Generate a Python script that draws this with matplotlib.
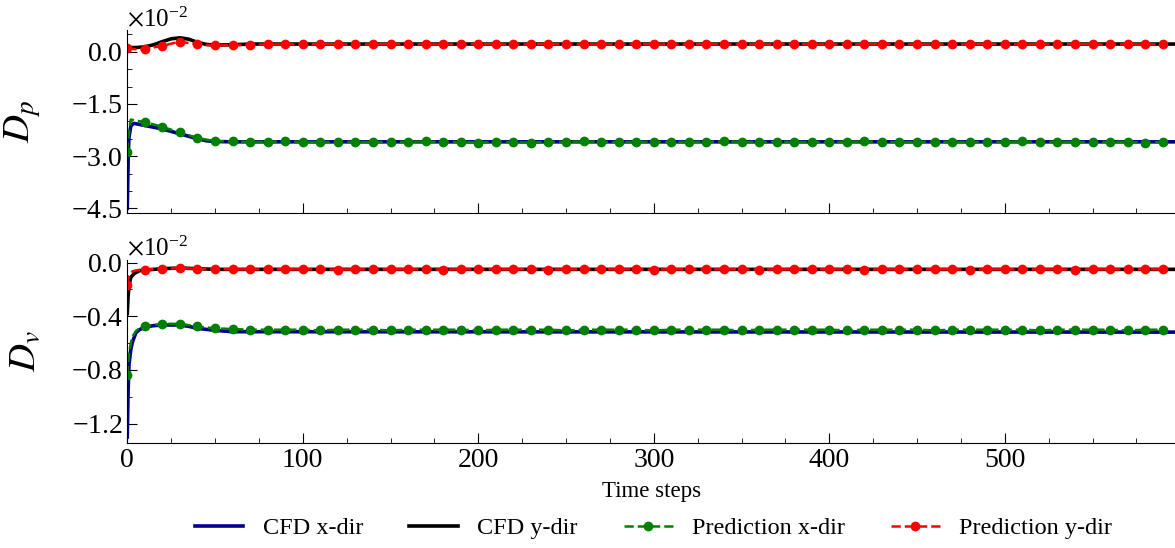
import numpy as np
import matplotlib
matplotlib.use("Agg")
import matplotlib.pyplot as plt
from matplotlib.ticker import ScalarFormatter, FixedLocator, MultipleLocator


plt.rcParams["font.family"] = ["Liberation Serif", "DejaVu Serif"]
plt.rcParams["mathtext.fontset"] = "stix"

SCALE = 1e-2  # all values below are in units of 1e-2

# ---- CFD reference (breakpoints of the time history) ----
dp_x_cfd_t = [0, 0.6, 1, 2, 3, 4, 6, 10, 20, 30, 40, 45, 50, 60, 80, 597]
dp_x_cfd = [-4.5, -2.9, -2.45, -2.15, -2.08, -2.06, -2.08, -2.12, -2.22, -2.36,
            -2.5, -2.56, -2.58, -2.59, -2.59, -2.59]

dp_y_cfd_t = [0, 5, 10, 15, 20, 25, 30, 35, 40, 45, 50, 60, 70, 80, 597]
dp_y_cfd = [0.12, 0.12, 0.14, 0.20, 0.29, 0.37, 0.40, 0.36, 0.27, 0.21, 0.19,
            0.20, 0.22, 0.22, 0.22]

dv_x_cfd_t = [0, 0.5, 1, 2, 3, 5, 7, 10, 15, 20, 30, 35, 40, 50, 60, 597]
dv_x_cfd = [-1.3, -0.95, -0.76, -0.65, -0.59, -0.52, -0.50, -0.48, -0.47,
            -0.465, -0.465, -0.475, -0.49, -0.505, -0.515, -0.518]

dv_y_cfd_t = [0, 0.5, 1, 2, 4, 7, 10, 20, 30, 40, 50, 597]
dv_y_cfd = [-0.38, -0.25, -0.17, -0.11, -0.08, -0.06, -0.055, -0.045, -0.04,
            -0.045, -0.05, -0.05]

# ---- model prediction, output every 10 steps ----
pred_t = list(range(0, 600, 10))

dp_x_pred = [-2.88, -2.02, -2.16, -2.32, -2.48, -2.57, -2.58, -2.59, -2.59, -2.58,
             -2.59, -2.60, -2.59, -2.59, -2.60, -2.59, -2.59, -2.58, -2.60, -2.59,
             -2.61, -2.59, -2.60, -2.61, -2.59, -2.59, -2.58, -2.59, -2.60, -2.59,
             -2.59, -2.60, -2.59, -2.59, -2.58, -2.59, -2.60, -2.59, -2.59, -2.60,
             -2.59, -2.59, -2.58, -2.59, -2.60, -2.59, -2.59, -2.59, -2.60, -2.59,
             -2.59, -2.58, -2.59, -2.59, -2.59, -2.60, -2.59, -2.59, -2.62, -2.59]
dp_y_pred = [0.10, 0.08, 0.17, 0.29, 0.21, 0.18, 0.19, 0.20, 0.21, 0.21,
             0.21, 0.22, 0.21, 0.21, 0.21, 0.22, 0.21, 0.21, 0.21, 0.21,
             0.22, 0.21, 0.21, 0.21, 0.22, 0.21, 0.21, 0.21, 0.21, 0.22,
             0.21, 0.21, 0.21, 0.22, 0.21, 0.21, 0.21, 0.21, 0.22, 0.21,
             0.21, 0.21, 0.21, 0.22, 0.21, 0.21, 0.21, 0.21, 0.21, 0.22,
             0.21, 0.21, 0.21, 0.21, 0.22, 0.21, 0.21, 0.21, 0.21, 0.21]
dv_x_pred = [-0.84, -0.476, -0.456, -0.456, -0.476, -0.49, -0.495, -0.50, -0.50, -0.50,
             -0.50, -0.505, -0.50, -0.50, -0.50, -0.505, -0.50, -0.50, -0.50, -0.50,
             -0.505, -0.50, -0.50, -0.50, -0.50, -0.505, -0.50, -0.50, -0.50, -0.50,
             -0.505, -0.50, -0.50, -0.50, -0.50, -0.505, -0.50, -0.50, -0.50, -0.50,
             -0.50, -0.505, -0.50, -0.50, -0.50, -0.50, -0.505, -0.50, -0.50, -0.50,
             -0.50, -0.50, -0.505, -0.50, -0.50, -0.50, -0.50, -0.505, -0.50, -0.50]
dv_y_pred = [-0.165, -0.052, -0.045, -0.042, -0.045, -0.048, -0.05, -0.05, -0.05, -0.05,
             -0.05, -0.05, -0.052, -0.05, -0.05, -0.05, -0.05, -0.05, -0.052, -0.05,
             -0.05, -0.05, -0.05, -0.05, -0.052, -0.05, -0.05, -0.05, -0.05, -0.05,
             -0.052, -0.05, -0.05, -0.05, -0.05, -0.05, -0.052, -0.05, -0.05, -0.05,
             -0.05, -0.05, -0.052, -0.05, -0.05, -0.05, -0.05, -0.05, -0.052, -0.05,
             -0.05, -0.05, -0.05, -0.05, -0.052, -0.05, -0.05, -0.05, -0.05, -0.05]

# extra prediction samples inside the first 10 steps (start-up transient)
dp_x_start_t = [1, 2, 4, 7]
dp_x_start = [-2.3, -1.95, -1.97, -2.0]
dp_y_start_t = [5]
dp_y_start = [0.07]
dv_x_start_t = [1, 2, 3, 5, 7]
dv_x_start = [-0.68, -0.6, -0.55, -0.51, -0.49]
dv_y_start_t = [1, 3, 6]
dv_y_start = [-0.1, -0.065, -0.055]

dp_ticks = [0.0, -1.5, -3.0, -4.5]
dv_ticks = [0.0, -0.4, -0.8, -1.2]
x_ticks = [0, 100, 200, 300, 400, 500]


def with_start(start_t, start_v, grid_v):
    # merge the start-up samples into the 10-step series, keep marker indices
    t = [pred_t[0]] + start_t + pred_t[1:]
    v = [grid_v[0]] + start_v + grid_v[1:]
    marks = [0] + list(range(len(start_t) + 1, len(t)))
    return np.array(t), np.array(v) * SCALE, marks


fig = plt.figure(figsize=(11.75, 5.48), dpi=100)
ax1 = fig.add_axes([0.1083, 0.611, 0.8917, 0.334])
ax2 = fig.add_axes([0.1083, 0.1916, 0.8917, 0.334], sharex=ax1)

panels = [
    (ax1, dp_x_cfd_t, dp_x_cfd, dp_y_cfd_t, dp_y_cfd,
     (dp_x_start_t, dp_x_start, dp_x_pred), (dp_y_start_t, dp_y_start, dp_y_pred),
     r"$D_p$", dp_ticks, (-4.64, 0.62), 0.5),
    (ax2, dv_x_cfd_t, dv_x_cfd, dv_y_cfd_t, dv_y_cfd,
     (dv_x_start_t, dv_x_start, dv_x_pred), (dv_y_start_t, dv_y_start, dv_y_pred),
     r"$D_v$", dv_ticks, (-1.345, 0.02), 0.2),
]

for ax, xt, xv, yt, yv, px, py, label, yt_major, ylim, minor in panels:
    ax.plot(xt, np.array(xv) * SCALE, color="#00008B", lw=2.6, label="CFD x-dir")
    ax.plot(yt, np.array(yv) * SCALE, color="black", lw=2.6, label="CFD y-dir")

    t, v, marks = with_start(*px)
    ax.plot(t, v, color="green", lw=1.8, ls="--", marker="o", ms=6,
            markevery=marks, label="Prediction x-dir")
    t, v, marks = with_start(*py)
    ax.plot(t, v, color="red", lw=1.8, ls="--", marker="o", ms=6,
            markevery=marks, label="Prediction y-dir")

    ax.set_ylim(ylim[0] * SCALE, ylim[1] * SCALE)
    ax.yaxis.set_major_locator(FixedLocator([y * SCALE for y in yt_major]))
    ax.yaxis.set_minor_locator(MultipleLocator(minor * SCALE))
    fmt = ScalarFormatter(useMathText=True)
    fmt.set_powerlimits((0, 0))
    ax.yaxis.set_major_formatter(fmt)
    ax.yaxis.get_offset_text().set_fontsize(18)

    ax.set_ylabel(label, fontsize=28)
    ax.yaxis.set_label_coords(-0.08, 0.5)

    ax.spines["top"].set_visible(False)
    ax.spines["right"].set_visible(False)
    ax.tick_params(which="both", direction="in", labelsize=20)
    ax.tick_params(which="major", length=7)
    ax.tick_params(which="minor", length=3.5)

ax1.set_xlim(0, 597)
ax1.xaxis.set_major_locator(FixedLocator(x_ticks))
ax1.xaxis.set_minor_locator(MultipleLocator(25))
ax1.tick_params(axis="x", labelbottom=False)

ax2.set_xlabel("Time steps", fontsize=16.5, labelpad=6)

handles, labels = ax2.get_legend_handles_labels()
fig.legend(handles, labels, loc="center", bbox_to_anchor=(0.556, 0.036), ncol=4,
           frameon=False, fontsize=17.5, handlelength=2.0, handletextpad=0.8,
           columnspacing=1.9)

fig.savefig("out.png", dpi=100)
